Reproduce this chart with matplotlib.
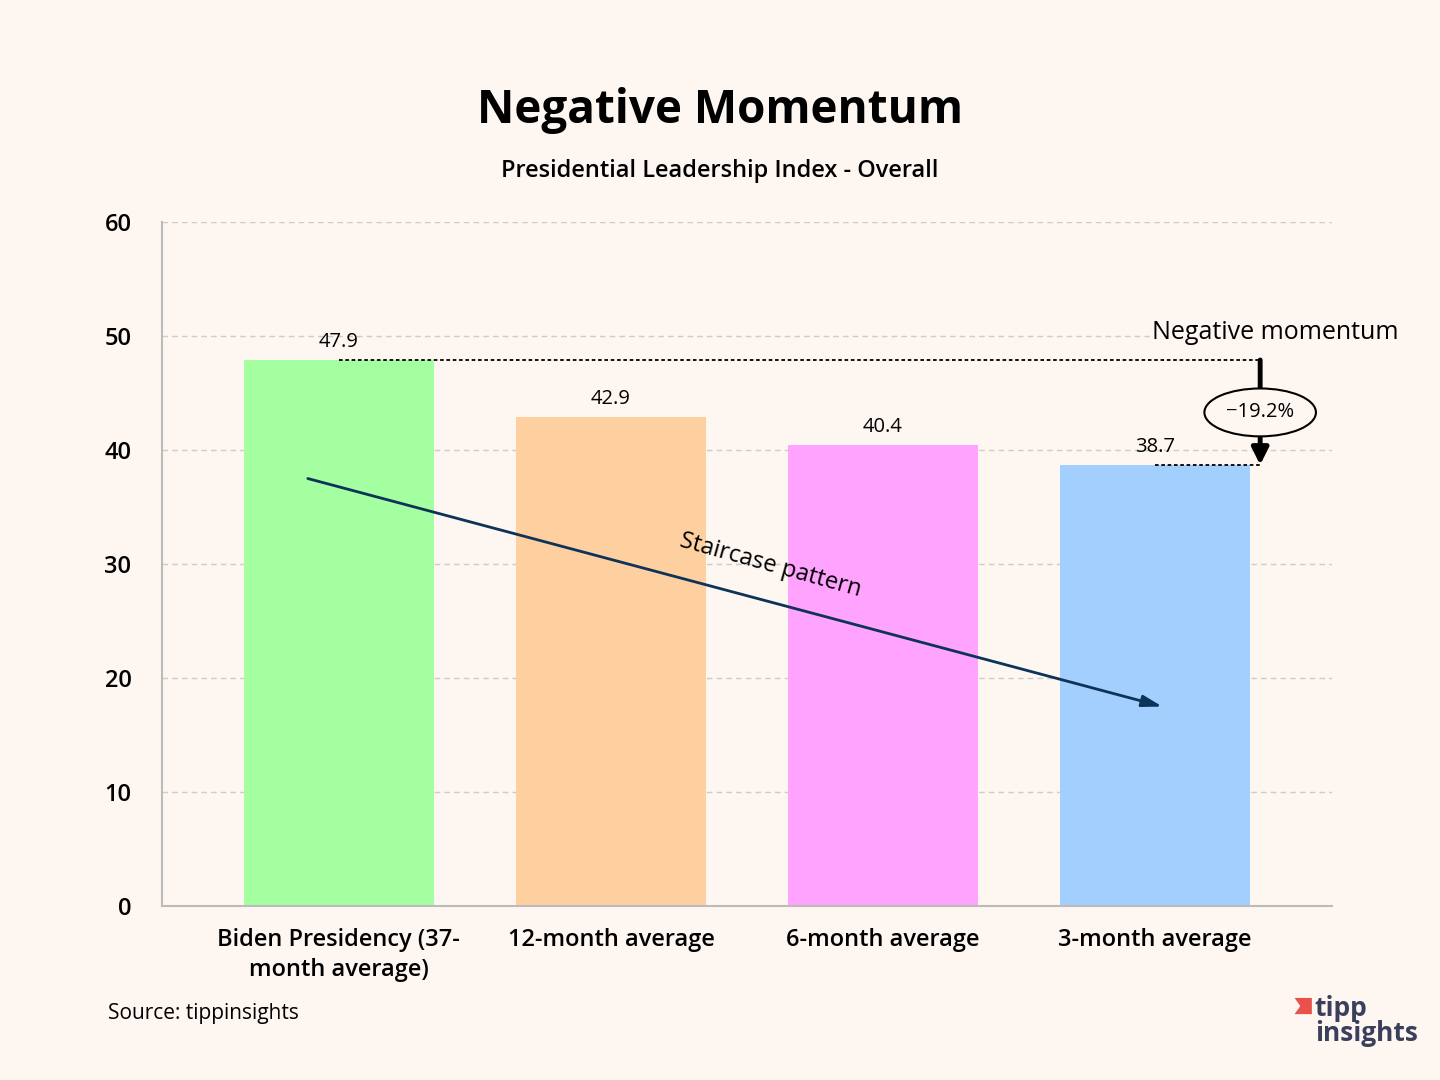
import matplotlib
matplotlib.use("Agg")
import matplotlib.pyplot as plt
from matplotlib.patches import Ellipse, Polygon

categories = ["Biden Presidency (37-\nmonth average)", "12-month average",
              "6-month average", "3-month average"]
values = [47.9, 42.9, 40.4, 38.7]
colors = ["#a3ff9f", "#ffd09f", "#ffa3ff", "#a3cfff"]
change_label = "\u221219.2%"

bg = "#fdf6f1"
plt.rcParams['font.family'] = ['Open Sans', 'DejaVu Sans']

fig = plt.figure(figsize=(14.4, 10.8), dpi=100, facecolor=bg)
ax = fig.add_axes([0.1125, 0.1611, 0.8125, 0.6333], facecolor=bg)

x = list(range(len(values)))
ax.bar(x, values, width=0.7, color=colors, zorder=2)
for xi, v in zip(x, values):
    ax.text(xi, v + 0.7, f"{v}", ha="center", va="bottom", fontsize=14.5)

ax.set_xlim(-0.65, 3.65)
ax.set_ylim(0, 60)
ax.set_yticks(range(0, 61, 10))
ax.set_xticks(x)
ax.set_xticklabels(categories, fontsize=17, fontweight="semibold", linespacing=1.3)
ax.tick_params(axis="y", labelsize=17, length=0, pad=22)
for lab in ax.get_yticklabels():
    lab.set_fontweight("semibold")
ax.tick_params(axis="x", length=0, pad=16)
ax.grid(axis="y", color="#cccccc", linestyle=(0, (4, 3)), linewidth=1, zorder=0)
for s in ["top", "right"]:
    ax.spines[s].set_visible(False)
ax.spines["left"].set_color("#bbbbbb")
ax.spines["bottom"].set_color("#bbbbbb")
ax.spines["left"].set_linewidth(1.5)
ax.spines["bottom"].set_linewidth(1.5)

# negative momentum annotation
xr = 3.386
ax.plot([0, xr], [values[0], values[0]], color="black", linestyle=(0, (2, 1.5)),
        linewidth=1.3, zorder=3)
ax.plot([3, xr], [values[3], values[3]], color="black", linestyle=(0, (2, 1.5)),
        linewidth=1.3, zorder=3)
ax.annotate("", xy=(xr, values[3]), xytext=(xr, values[0]),
            arrowprops=dict(arrowstyle="-|>,head_width=0.5,head_length=1.0",
                            color="black", lw=3.5, shrinkA=0, shrinkB=0), zorder=4)
ell = Ellipse((xr, 43.3), 0.41, 4.2, facecolor=bg, edgecolor="black", lw=1.5, zorder=5)
ax.add_patch(ell)
ax.text(xr, 43.3, change_label, ha="center", va="center", fontsize=14.5, zorder=6)
ax.text(3.44, 50.3, "Negative momentum", ha="center", va="center", fontsize=18,
        zorder=6, bbox=dict(facecolor=bg, edgecolor="none", pad=0))

# staircase arrow
ax.annotate("", xy=(3.026, 17.5), xytext=(-0.114, 37.5),
            arrowprops=dict(arrowstyle="-|>,head_width=0.35,head_length=1.2",
                            color="#0d3358", lw=2, shrinkA=0, shrinkB=0), zorder=4)
ax.text(1.585, 29.9, "Staircase pattern", ha="center", va="center", fontsize=17,
        rotation=-15.5, zorder=5)

fig.text(0.5, 0.898, "Negative Momentum", ha="center", va="center",
         fontsize=33, fontweight="bold")
fig.text(0.5, 0.842, "Presidential Leadership Index - Overall", ha="center",
         va="center", fontsize=17, fontweight="semibold")
fig.text(0.075, 0.062, "Source: tippinsights", ha="left", va="center", fontsize=15)

# logo
fig.text(0.913, 0.066, "tipp", ha="left", va="center", fontsize=19,
         fontweight="bold", color="#3a3f5c")
fig.text(0.913, 0.043, "insights", ha="left", va="center", fontsize=19,
         fontweight="bold", color="#3a3f5c")
logo = Polygon([[0.899, 0.061], [0.911, 0.061], [0.911, 0.076], [0.899, 0.076],
                [0.903, 0.0685]], closed=True, transform=fig.transFigure,
               facecolor="#e8524a", edgecolor="none")
fig.patches.append(logo)

fig.savefig("out.png", dpi=100, facecolor=bg)
